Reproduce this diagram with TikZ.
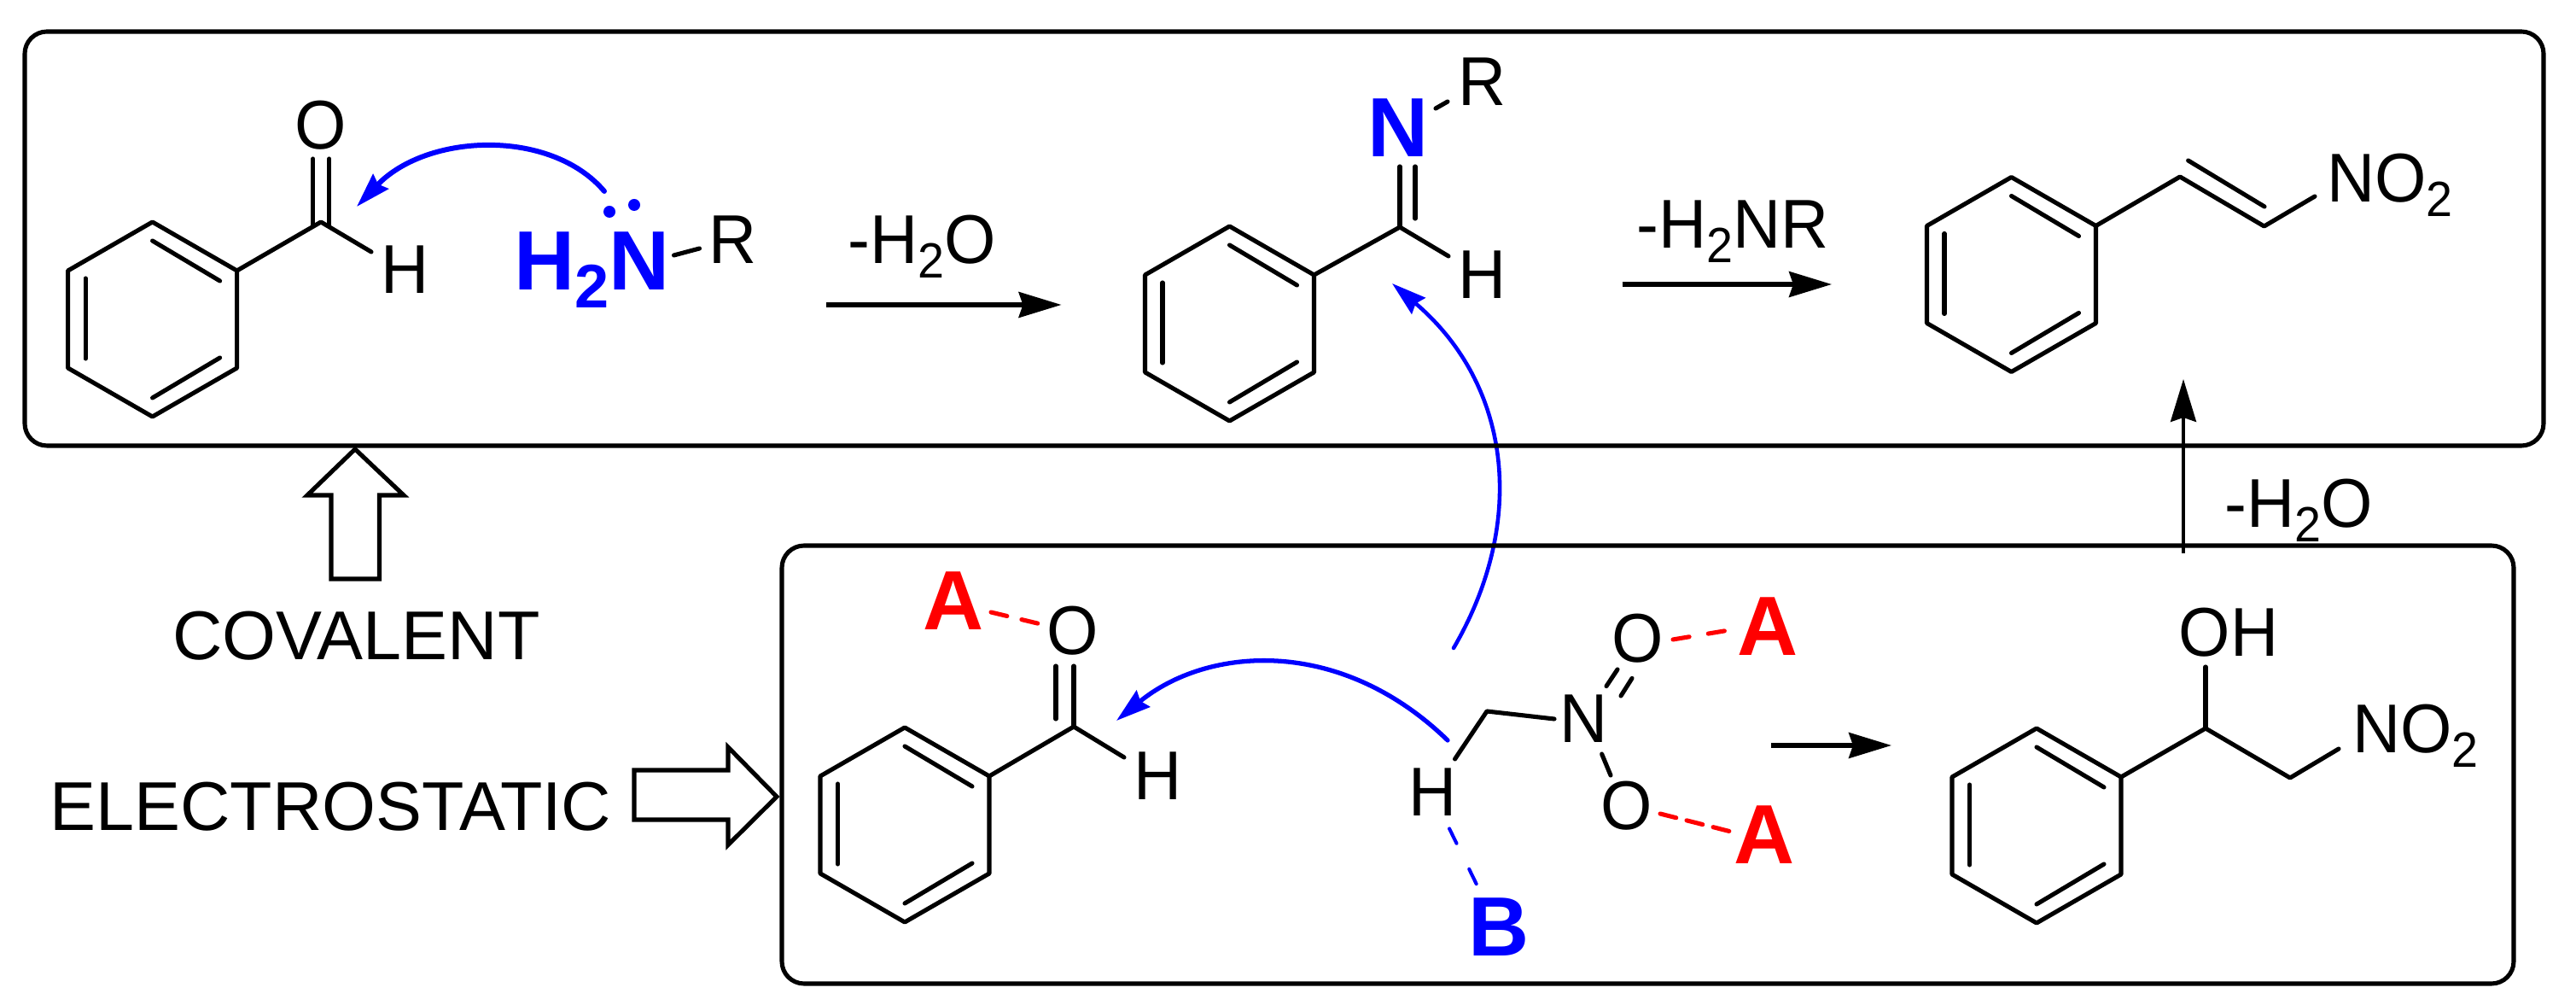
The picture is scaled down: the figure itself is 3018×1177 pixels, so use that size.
\documentclass[tikz,border=0pt]{standalone}
\usepackage{fontspec}
\setmainfont{Liberation Sans}
\newfontfamily\chemfont[FakeStretch=0.96]{Liberation Sans}
\usetikzlibrary{arrows.meta}
\definecolor{chemblue}{RGB}{0,0,255}
\definecolor{chemred}{RGB}{255,0,0}
\newcommand{\subreg}[1]{\raisebox{-4.8pt}{\fontsize{16.5pt}{16.5pt}\selectfont #1}}
\newcommand{\subbold}[1]{\raisebox{-5.7pt}{\fontsize{20.5pt}{20.5pt}\selectfont #1}}
\tikzset{
  bond/.style={line width=1.45pt,line cap=round,line join=round,draw=black},
  panel/.style={line width=1.45pt,draw=black,rounded corners=7.4pt},
  hollow/.style={line width=1.45pt,draw=black,line join=miter,fill=white},
  lab/.style={font=\fontsize{23pt}{23pt}\selectfont\chemfont,inner sep=0pt,text=black,anchor=base},
  toplab/.style={font=\fontsize{23pt}{23pt}\selectfont,inner sep=0pt,text=black,anchor=base},
  blab/.style={font=\fontsize{28pt}{28pt}\selectfont\bfseries,inner sep=0pt,anchor=base},
  rxn/.style={line width=1.45pt,draw=black,-{Stealth[length=14.2pt,width=8.5pt,inset=1.4pt]}},
  curly/.style={draw=chemblue,line cap=round,-{Stealth[length=11.5pt,width=7pt,inset=1.2pt]}},
  reddash/.style={draw=chemred,line width=1.45pt,line cap=round},
  bluedash/.style={draw=chemblue,line width=1.15pt,line cap=round},
}
\newcommand{\benzring}[3]{%
  \begin{scope}[shift={(#2,#3)}]
    \coordinate (#1t) at (0,-114);
    \coordinate (#1ur) at (99,-57);
    \coordinate (#1lr) at (99,57);
    \coordinate (#1b) at (0,114);
    \coordinate (#1ll) at (-99,57);
    \coordinate (#1ul) at (-99,-57);
    \draw[bond] (#1t) -- (#1ur) -- (#1lr) -- (#1b) -- (#1ll) -- (#1ul) -- cycle;
    \draw[bond] (0,-92) -- (79,-45);
    \draw[bond] (79,45) -- (0,92);
    \draw[bond] (-78.5,-48) -- (-78.5,46);
  \end{scope}}
\begin{document}
\begin{tikzpicture}[x=0.01cm,y=-0.01cm]
\useasboundingbox (0,0) rectangle (3018,1177);

% blue curved arrows (the panels lie over them)
\coordinate (c1s) at (708,224);
\coordinate (c1e) at (418,242);
\draw[curly,line width=1.7pt] (c1s) .. controls (645,150) and (500,156) .. (c1e);
\coordinate (c2s) at (1703,759);
\coordinate (c2e) at (1631,332);
\draw[curly,line width=1.3pt] (c2s) .. controls (1790,610) and (1770,450) .. (c2e);
\coordinate (c3s) at (1696,867);
\coordinate (c3e) at (1308,844);
\draw[curly,line width=1.5pt] (c3s) .. controls (1570,745) and (1415,756.5) .. (c3e);

% panels
\draw[panel] (29,37) rectangle (2980,522);
\draw[panel] (916,639) rectangle (2945,1152);

% benzaldehyde + amine (top left)
\benzring{a}{178.6}{374}
\coordinate (aC) at (376,260);
\coordinate (aOl) at (366.7,186);
\coordinate (aOr) at (385.8,186);
\coordinate (aCl) at (366.7,265);
\coordinate (aCr) at (385.8,265);
\coordinate (aHb) at (435,295);
\node[lab] (aO) at (376,175) {O};
\node[lab] (aH) at (474.5,344) {H};
\draw[bond] (aur) -- (aC) -- (aHb);
\draw[bond] (aOl) -- (aCl);
\draw[bond] (aOr) -- (aCr);
\node[blab,text=chemblue] (amine) at (693.5,340) {H\subbold{2}N};
\node[lab] (amR) at (859,309) {R};
\coordinate (amA) at (789.5,299);
\coordinate (amB) at (819.5,291);
\draw[bond] (amA) -- (amB);
\fill[chemblue] (714,248) circle (7);
\fill[chemblue] (743,240) circle (7);

% arrow 1
\node[lab] (t1) at (1080,309) {-H\subreg{2}O};
\coordinate (r1s) at (968,357);
\coordinate (r1e) at (1243.5,357);
\draw[rxn] (r1s) -- (r1e);

% imine
\benzring{b}{1440.5}{379}
\coordinate (bC) at (1640,266);
\coordinate (bNl) at (1640,195);
\coordinate (bNr) at (1658,195);
\coordinate (bCr) at (1658,256);
\coordinate (bHb) at (1697,300);
\draw[bond] (bur) -- (bC) -- (bHb);
\draw[bond] (bNl) -- (bC);
\draw[bond] (bNr) -- (bCr);
\node[lab] (bH) at (1737,350) {H};
\node[blab,text=chemblue] (bN) at (1638,184) {N};
\node[lab] (bR) at (1737,124) {R};
\coordinate (bRa) at (1682,127);
\coordinate (bRb) at (1696,119);
\draw[bond] (bRa) -- (bRb);

% arrow 2
\node[lab] (t2) at (2030,291) {-H\subreg{2}NR};
\coordinate (r2s) at (1900.6,333);
\coordinate (r2e) at (2146,333);
\draw[rxn] (r2s) -- (r2e);

% nitrostyrene
\benzring{c}{2356.5}{321.5}
\coordinate (c1) at (2554,207);
\coordinate (c2) at (2652.6,265);
\coordinate (c3) at (2712,230);
\coordinate (c4) at (2563.6,188);
\coordinate (c5) at (2653,242);
\draw[bond] (cur) -- (c1) -- (c2) -- (c3);
\draw[bond] (c4) -- (c5);
\node[lab] (cNO) at (2800,236.5) {NO\subreg{2}};

% vertical arrow
\coordinate (r3s) at (2558,648);
\coordinate (r3e) at (2558,444);
\draw[rxn,line width=1.15pt] (r3s) -- (r3e);
\node[lab] (t3) at (2693,618) {-H\subreg{2}O};

% open arrows and labels
\draw[hollow] (388,678) -- (388,580) -- (360,580) -- (416,526) -- (473,580) -- (444.5,580) -- (444.5,678) -- cycle;
\draw[hollow] (743,902) -- (853,902) -- (853,875) -- (910,933) -- (853,989.5) -- (853,960) -- (743,960) -- cycle;
\node[toplab] (cov) at (417.5,773) {COVALENT};
\node[toplab] (ele) at (387.5,973) {ELECTROSTATIC};

% lower benzaldehyde
\benzring{d}{1060}{966}
\coordinate (dC) at (1258,851);
\coordinate (dOl) at (1237,780);
\coordinate (dOr) at (1258,780);
\coordinate (dCl) at (1237,842);
\coordinate (dHb) at (1317,887);
\draw[bond] (dur) -- (dC) -- (dHb);
\draw[bond] (dOr) -- (dC);
\draw[bond] (dOl) -- (dCl);
\node[lab] (dO) at (1257,767) {O};
\node[lab] (dH) at (1357,937) {H};
\node[blab,text=chemred] (dA) at (1117,738) {A};
\coordinate (dAa) at (1161,717);
\coordinate (dAb) at (1219.5,731);
\draw[reddash,dash pattern=on 5.5pt off 5pt] (dAa) -- (dAb);

% nitromethane
\coordinate (nC) at (1742,833);
\coordinate (nHb) at (1704.5,889);
\coordinate (nNb) at (1821,842);
\draw[bond] (nHb) -- (nC) -- (nNb);
\node[lab] (nH) at (1678.5,956) {H};
\node[lab] (nN) at (1856,870) {N};
\node[lab] (nO1) at (1919,776) {O};
\node[lab] (nO2) at (1906,972) {O};
\coordinate (no1a) at (1895,784);
\coordinate (no1b) at (1882,803.6);
\coordinate (no2a) at (1912,794.4);
\coordinate (no2b) at (1899,815);
\coordinate (no3a) at (1876.6,883);
\coordinate (no3b) at (1887,908);
\draw[bond] (no1a) -- (no1b);
\draw[bond] (no2a) -- (no2b);
\draw[bond] (no3a) -- (no3b);
\node[blab,text=chemred] (A1) at (2071.5,768) {A};
\node[blab,text=chemred] (A2) at (2067.5,1012) {A};
\node[blab,text=chemblue] (B) at (1756,1120) {B};
\coordinate (ra1) at (1960,749);
\coordinate (ra2) at (2026,738);
\coordinate (rb1) at (1945,953);
\coordinate (rb2) at (2032,975);
\coordinate (ba1) at (1698,970.4);
\coordinate (ba2) at (1732.5,1041);
\draw[reddash,dash pattern=on 5.5pt off 6.4pt] (ra1) -- (ra2);
\draw[reddash,dash pattern=on 5.5pt off 3.6pt] (rb1) -- (rb2);
\draw[bluedash,dash pattern=on 5.5pt off 9.5pt] (ba1) -- (ba2);

% arrow 4
\coordinate (r4s) at (2075,873);
\coordinate (r4e) at (2216,873);
\draw[rxn] (r4s) -- (r4e);

% nitroalcohol
\benzring{e}{2386}{967}
\coordinate (e1) at (2584,853);
\coordinate (e2) at (2683,911);
\coordinate (e3) at (2740,877);
\coordinate (e4) at (2584,781);
\draw[bond] (eur) -- (e1) -- (e2) -- (e3);
\draw[bond] (e1) -- (e4);
\node[lab] (eOH) at (2611,769) {OH};
\node[lab] (eNO) at (2830,882) {NO\subreg{2}};
\end{tikzpicture}
\end{document}
